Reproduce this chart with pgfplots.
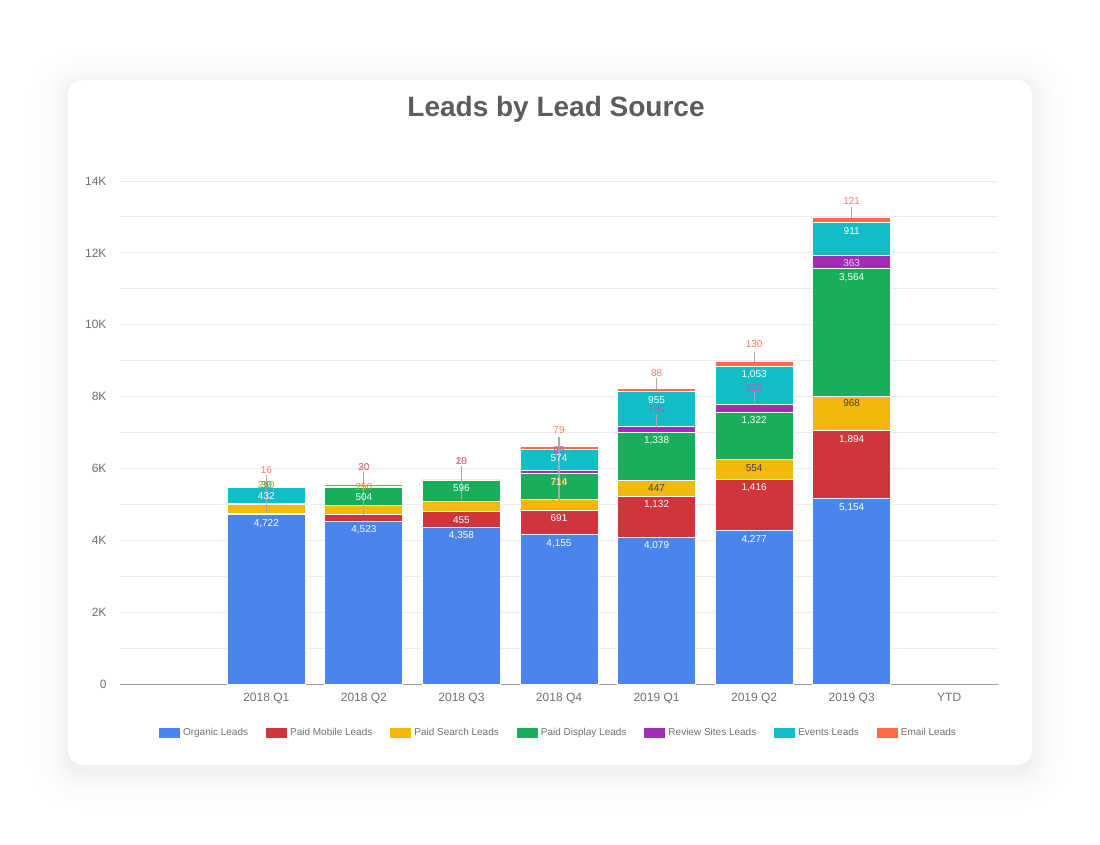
\documentclass[border=0pt]{standalone}
\usepackage{fontspec}
\setmainfont{Liberation Sans}
\usepackage{pgfplots}
\usepackage{pgfplotstable}
\pgfplotsset{compat=1.18}
\definecolor{cOrg}{HTML}{4A85EE}
\definecolor{cMob}{HTML}{D0353C}
\definecolor{cSea}{HTML}{F2B80C}
\definecolor{cDis}{HTML}{1AAE5C}
\definecolor{cRev}{HTML}{A02DB6}
\definecolor{cEve}{HTML}{12BEC6}
\definecolor{cEma}{HTML}{FF6B45}
\definecolor{cEmaT}{HTML}{F8806A}
\definecolor{cTitle}{HTML}{5C5C5E}
\definecolor{cTick}{HTML}{707070}
\definecolor{cGrid}{HTML}{ECECEC}
\definecolor{cBase}{HTML}{9A9A9A}
\definecolor{cLead}{HTML}{A8A8A8}

\pgfplotstableread{
x organic mobile search display review events email
1 4722 20 250 30 10 432 16
2 4523 185 250 504 20 30 30
3 4358 455 260 596 10 10 28
4 4155 691 300 714 95 574 79
5 4079 1132 447 1338 180 955 88
6 4277 1416 554 1322 222 1053 130
7 5154 1894 968 3564 363 911 121
}\leads

\begin{document}
\begin{tikzpicture}[x=1pt,y=1pt]
\useasboundingbox (0,0) rectangle (1100,-844);
\fill[white] (0,0) rectangle (1100,-844);
\foreach \i in {44,43,...,1} {
  \pgfmathsetmacro\r{15+\i}
  \pgfmathsetmacro\p{5.5*(1-\i/45)^2}
  \fill[black!\p!white, rounded corners=\r pt] (68-\i,-86+\i) rectangle (1032+\i,-771-\i);
}
\fill[white, rounded corners=15pt] (68,-80) rectangle (1032,-765);
\node[font=\fontsize{28}{32}\selectfont\bfseries, text=cTitle] at (556,-109) {Leads by Lead Source};

\begin{axis}[
  at={(120pt,-684pt)}, anchor=south west,
  scale only axis, width=878pt, height=503pt,
  xmin=-0.5, xmax=8.5, ymin=0, ymax=14000,
  scaled y ticks=false,
  ybar stacked, bar width=78pt,
  axis x line*=bottom, axis y line*=left,
  x axis line style={draw=cBase, line width=1pt},
  y axis line style={draw=none},
  major tick length=0pt, minor tick length=0pt,
  xtick={0,...,8},
  xticklabels={,2018 Q1,2018 Q2,2018 Q3,2018 Q4,2019 Q1,2019 Q2,2019 Q3,YTD},
  ytick={0,2000,4000,6000,8000,10000,12000,14000},
  yticklabels={0,2K,4K,6K,8K,10K,12K,14K},
  minor ytick={1000,3000,5000,7000,9000,11000,13000},
  ymajorgrids, yminorgrids,
  major grid style={draw=cGrid, line width=1pt},
  minor grid style={draw=cGrid, line width=1pt},
  ticklabel style={font=\fontsize{12}{14}\selectfont, text=cTick},
  yticklabel style={xshift=-10pt},
  xticklabel style={yshift=-6pt},
  legend columns=7,
  legend style={at={(0.5,0)}, anchor=center, yshift=-49pt, draw=none, fill=none,
    font=\fontsize{10}{12}\selectfont, text=cTick,
    nodes={inner sep=3pt},
    /tikz/every even column/.append style={column sep=15pt}},
  legend image code/.code={\fill[#1,draw=none] (0pt,-5pt) rectangle (21pt,5pt);},
]
\addplot[fill=cOrg, draw=white, line width=0.8pt] table[x=x,y=organic] {\leads};
\addplot[fill=cMob, draw=white, line width=0.8pt] table[x=x,y=mobile] {\leads};
\addplot[fill=cSea, draw=white, line width=0.8pt] table[x=x,y=search] {\leads};
\addplot[fill=cDis, draw=white, line width=0.8pt] table[x=x,y=display] {\leads};
\addplot[fill=cRev, draw=white, line width=0.8pt] table[x=x,y=review] {\leads};
\addplot[fill=cEve, draw=white, line width=0.8pt] table[x=x,y=events] {\leads};
\addplot[fill=cEma, draw=white, line width=0.8pt] table[x=x,y=email] {\leads};
\legend{Organic Leads,Paid Mobile Leads,Paid Search Leads,Paid Display Leads,Review Sites Leads,Events Leads,Email Leads}
\end{axis}

\begin{axis}[
  at={(120pt,-684pt)}, anchor=south west,
  scale only axis, width=878pt, height=503pt,
  xmin=-0.5, xmax=8.5, ymin=0, ymax=14000,
  hide axis, clip=false,
  lbl/.style={draw=none, mark=none, nodes near coords, point meta=explicit symbolic,
    nodes near coords align={center},
    every node near coord/.style={font=\fontsize{10}{12}\selectfont, text=#1, inner sep=0pt, anchor=center}},
]
% leader lines
\addplot[cLead, line width=1.2pt] coordinates {(1,5817) (1,4760)};
\addplot[cLead, line width=1.2pt] coordinates {(2,5900) (2,4704)};
\addplot[cLead, line width=1.2pt] coordinates {(3,6067) (3,5121)};
\addplot[cLead, line width=1.2pt] coordinates {(4,6875) (4,5121)};
\addplot[cLead, line width=1.2pt] coordinates {(5,8516) (5,8210)};
\addplot[cLead, line width=1.2pt] coordinates {(5,7514) (5,7161)};
\addplot[cLead, line width=1.2pt] coordinates {(6,9248) (6,8970)};
\addplot[cLead, line width=1.2pt] coordinates {(6,8127) (6,7812)};
\addplot[cLead, line width=1.2pt] coordinates {(7,13276) (7,12970)};
% small overlapping labels
\addplot[lbl={cSea!85!black}] table[meta=label] {
x y label
1 5530 250
2 5470 250
4 5622 300
};
\addplot[lbl={cDis}] table[meta=label] {
x y label
1 5545 30
};
\addplot[lbl={cRev!80!white}] table[meta=label] {
x y label
2 6040 20
3 6215 10
4 6513 95
5 7645 180
6 8230 222
};
\addplot[lbl={cEmaT}] table[meta=label] {
x y label
1 5956 16
2 6040 30
3 6215 28
4 7069 79
5 8664 88
6 9455 130
7 13443 121
};
\addplot[lbl={white}] table[meta=label] {
x y label
1 4472 4,722
2 4286 4,523
3 4119 4,358
4 3916 4,155
5 3841 4,079
6 4008 4,277
7 4907 5,154
3 4573 455
4 4612 691
5 4982 1,132
6 5464 1,416
7 6811 1,894
2 5213 504
3 5463 596
4 5622 714
5 6763 1,338
6 7329 1,322
7 11320 3,564
1 5241 432
4 6298 574
5 7904 955
6 8620 1,053
7 12617 911
};
\addplot[lbl={cRev!25!white}] table[meta=label] {
x y label
7 11726 363
};
\addplot[lbl={black!75}] table[meta=label] {
x y label
5 5447 447
6 6020 554
7 7813 968
};
\end{axis}
\end{tikzpicture}
\end{document}
